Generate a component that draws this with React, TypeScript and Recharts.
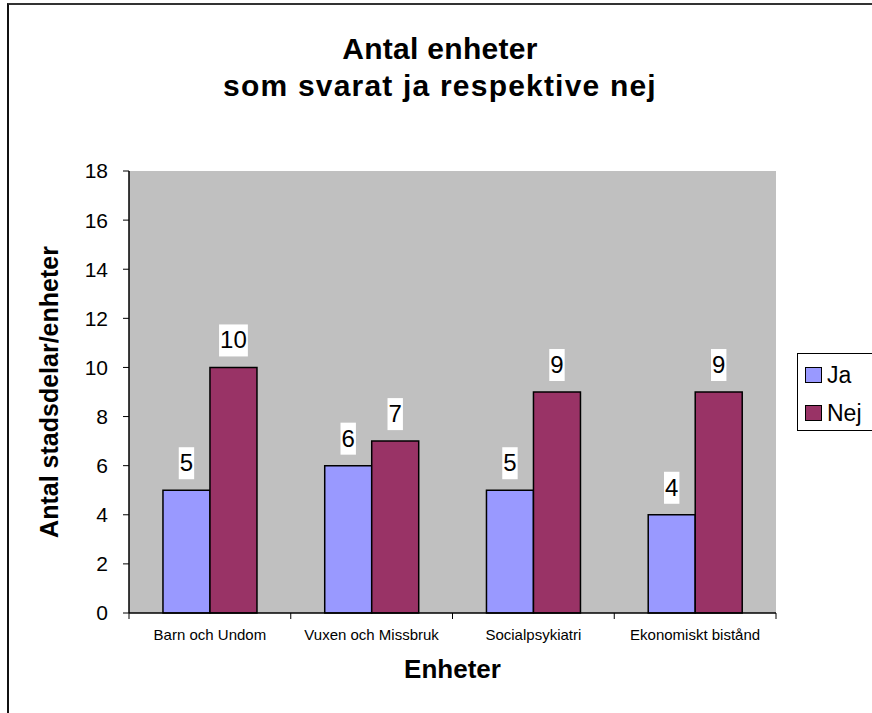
import React from 'react';
import { BarChart, Bar, XAxis, YAxis, CartesianGrid, Legend } from 'recharts';

const categories = ['Barn och Undom', 'Vuxen och Missbruk', 'Socialpsykiatri', 'Ekonomiskt bistånd'];
const jaValues = [5, 6, 5, 4];
const nejValues = [10, 7, 9, 9];
const yTicks = [0, 2, 4, 6, 8, 10, 12, 14, 16, 18];
const titleLines = ['Antal enheter', 'som svarat ja respektive nej'];
const xLabel = 'Enheter';
const yLabel = 'Antal stadsdelar/enheter';

const data = categories.map((name, i) => ({ name, ja: jaValues[i], nej: nejValues[i] }));

const FONT = '"Liberation Sans", Arial, sans-serif';

const CatTick = (props: any) => {
  const { x, y, payload, index, visibleTicksCount, tickSize = 6, tickMargin = 10 } = props;
  const half = payload && typeof payload.offset === 'number' ? payload.offset : 0;
  const axisY = y - tickSize - tickMargin;
  return (
    <g>
      <line x1={x - half} x2={x - half} y1={axisY} y2={axisY + 6} stroke="#000" strokeWidth={1} />
      {index === visibleTicksCount - 1 && (
        <line x1={x + half} x2={x + half} y1={axisY} y2={axisY + 6} stroke="#000" strokeWidth={1} />
      )}
      <text x={x} y={y} dy="0.71em" textAnchor="middle" fontFamily={FONT} fontSize={15} fill="#000">
        {payload.value}
      </text>
    </g>
  );
};

const ValueLabel = (props: any) => {
  const { x, y, width, value } = props;
  const cx = x + width / 2;
  const str = String(value);
  const w = str.length * 13.4 + 2;
  const boxBottom = y - 11;
  return (
    <g>
      <rect x={cx - w / 2} y={boxBottom - 32} width={w} height={32} fill="#fff" />
      <text x={cx} y={y - 19} textAnchor="middle" fontFamily={FONT} fontSize={24} fill="#000">
        {str}
      </text>
    </g>
  );
};

const YLabel = (props: any) => {
  const { viewBox } = props;
  const cy = viewBox.y + viewBox.height / 2;
  const x = 58;
  return (
    <text x={x} y={cy} transform={`rotate(-90, ${x}, ${cy})`} textAnchor="middle" fontFamily={FONT} fontSize={25} fontWeight="bold" fill="#000">
      {yLabel}
    </text>
  );
};

const XLabel = (props: any) => {
  const { viewBox } = props;
  const cx = viewBox.x + viewBox.width / 2;
  return (
    <text x={cx} y={678} textAnchor="middle" fontFamily={FONT} fontSize={26} fontWeight="bold" fill="#000">
      {xLabel}
    </text>
  );
};

const LegendBox = (props: any) => {
  const payload = props.payload || [];
  return (
    <div style={{ boxSizing: 'border-box', width: 80, height: 78, border: '1px solid #000', background: '#fff', paddingTop: 2, paddingLeft: 7, fontFamily: FONT }}>
      {payload.map((p: any) => (
        <div key={p.value} style={{ height: 38, display: 'flex', alignItems: 'center' }}>
          <div style={{ boxSizing: 'border-box', width: 17, height: 16, border: '1.5px solid #000', background: p.color }} />
          <span style={{ marginLeft: 5, fontSize: 23, color: '#000' }}>{p.value}</span>
        </div>
      ))}
    </div>
  );
};

export default function App() {
  return (
    <div style={{ position: 'absolute', left: 0, top: 0, width: 872, height: 713, overflow: 'hidden', background: '#fff' }}>
      <div style={{ position: 'absolute', left: 7, top: 3, width: 1000, height: 1000, borderTop: '2px solid #333', borderLeft: '2px solid #111' }} />
      <div style={{ position: 'absolute', left: 0, top: 30, width: 880, textAlign: 'center', fontFamily: FONT, fontWeight: 'bold', fontSize: 30, lineHeight: '37px', color: '#000' }}>
        {titleLines.map((t, i) => (
          <div key={t} style={{ letterSpacing: i === 1 ? '1.2px' : '0.3px' }}>{t}</div>
        ))}
      </div>
      <div style={{ position: 'absolute', left: 0, top: 0 }}>
        <BarChart
          width={872}
          height={713}
          data={data}
          margin={{ top: 171, right: 96, left: 0, bottom: 0 }}
          barCategoryGap="21%"
          barGap={0}
        >
          <CartesianGrid fill="#C0C0C0" horizontal={false} vertical={false} />
          <XAxis
            dataKey="name"
            height={100}
            interval={0}
            tickLine={false}
            tickSize={6}
            tickMargin={10}
            tick={<CatTick />}
            axisLine={{ stroke: '#000', strokeWidth: 1.5 }}
            label={<XLabel />}
          />
          <XAxis xAxisId="top" dataKey="name" orientation="top" height={0} tick={false} tickLine={false} axisLine={{ stroke: '#808080', strokeWidth: 2 }} />
          <YAxis
            domain={[0, 18]}
            ticks={yTicks}
            interval={0}
            width={129}
            tickSize={6}
            tickMargin={15}
            tick={{ fontFamily: FONT, fontSize: 21, fill: '#000' }}
            tickLine={{ stroke: '#000' }}
            axisLine={{ stroke: '#000', strokeWidth: 1.5 }}
            label={<YLabel />}
          />
          <YAxis yAxisId="right" orientation="right" domain={[0, 18]} width={0} tick={false} tickLine={false} axisLine={{ stroke: '#808080', strokeWidth: 2 }} />
          <Legend
            layout="horizontal"
            verticalAlign="middle"
            align="center"
            wrapperStyle={{ left: 797, top: 353, width: 80, height: 78 }}
            content={<LegendBox />}
          />
          <Bar dataKey="ja" name="Ja" fill="#9999FF" stroke="#000" strokeWidth={1.5} isAnimationActive={false} label={<ValueLabel />} />
          <Bar dataKey="nej" name="Nej" fill="#993366" stroke="#000" strokeWidth={1.5} isAnimationActive={false} label={<ValueLabel />} />
        </BarChart>
      </div>
    </div>
  );
}
